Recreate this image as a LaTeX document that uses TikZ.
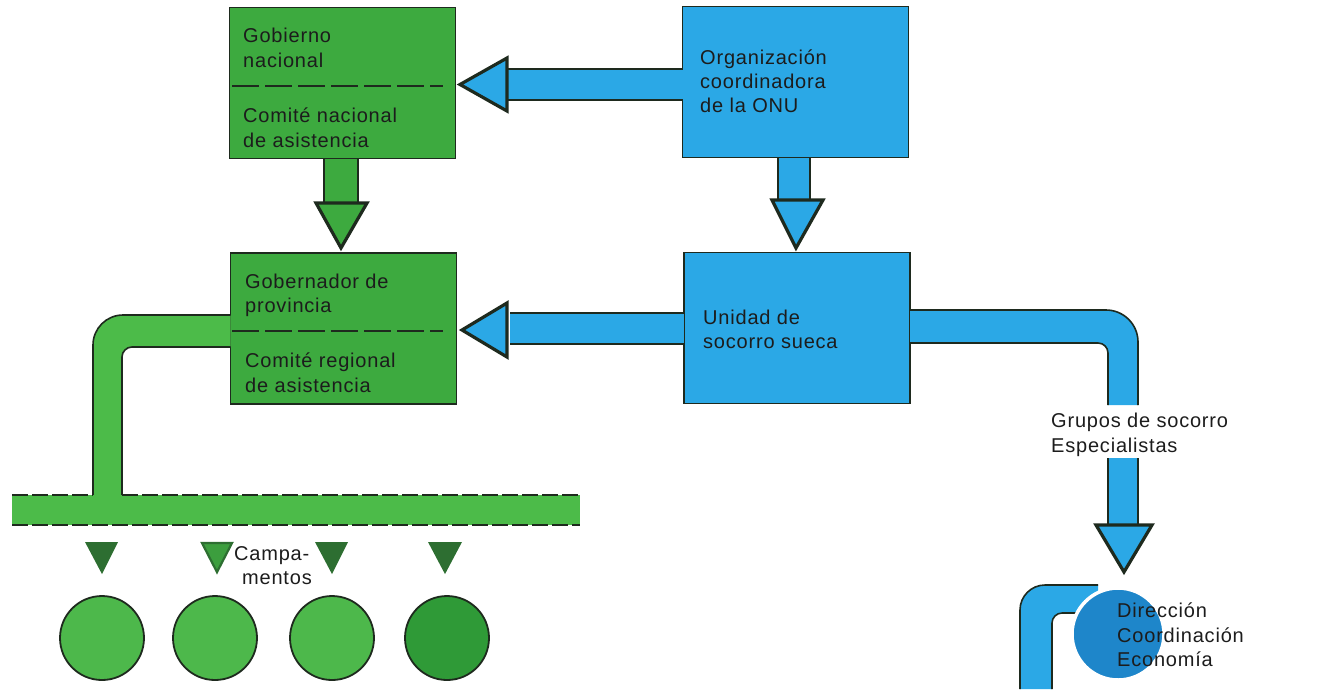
\documentclass[tikz,border=0pt]{standalone}
\usepackage{fontspec}
\newfontfamily\labfont[LetterSpace=4]{Liberation Sans}
\usetikzlibrary{calc}
\definecolor{gfill}{HTML}{3DAA3F}
\definecolor{gpipe}{HTML}{4CBB49}
\definecolor{bfill}{HTML}{2BA8E6}
\definecolor{cblue}{HTML}{1E86CA}
\definecolor{tdark}{HTML}{2D6E31}
\definecolor{tmid}{HTML}{3C9E3E}
\definecolor{cgreen}{HTML}{4DB84B}
\definecolor{cdark}{HTML}{2F9A37}
\definecolor{ink}{HTML}{1C1C1C}
\definecolor{edge}{HTML}{1E2A1E}
\begin{document}
\begin{tikzpicture}[x=1pt,y=-1pt,
  box/.style={draw=edge, line width=1.8pt, minimum width=226pt, minimum height=151pt, inner sep=0pt, outer sep=0pt},
  gbox/.style={box, fill=gfill},
  bbox/.style={box, fill=bfill},
  lab/.style={font=\labfont\fontsize{20}{25}\selectfont, text=ink, anchor=base west, inner sep=0pt},
  rim/.style={draw=edge, line width=1.6pt},
  headtri/.style={draw=edge, line width=3.2pt, line join=miter},
  divider/.style={draw=edge, line width=1.3pt, dash pattern=on 27pt off 6pt},
  bardash/.style={draw=edge, line width=1.6pt, dash pattern=on 16pt off 4pt},
  camp/.style={circle, draw=edge, line width=1.8pt, minimum size=84pt, inner sep=0pt},
  smalltri/.style={fill=tdark},
]
\useasboundingbox (0,0) rectangle (1324,689);

% ---------- boxes ----------
\node[gbox] (gob)  at (342.5,83)  {};
\node[bbox] (org)  at (795.5,82)  {};
\node[gbox] (gobp) at (343.5,328.5) {};
\node[bbox] (uni)  at (797,328)   {};

\draw[divider] (232,86) -- (443,86);
\draw[divider] (232,331) -- (443,331);

% ---------- box texts ----------
\node[lab] (t1) at (243,42)  {Gobierno};
\node[lab] (t2) at (243,67)  {nacional};
\node[lab] (t3) at (243,122) {Comité nacional};
\node[lab] (t4) at (243,147) {de asistencia};

\node[lab] (t5) at (700,64)  {Organización};
\node[lab] (t6) at (700,88)  {coordinadora};
\node[lab] (t7) at (700,112) {de la ONU};

\node[lab] (t8)  at (245,288) {Gobernador de};
\node[lab] (t9)  at (245,312) {provincia};
\node[lab] (t10) at (245,367) {Comité regional};
\node[lab] (t11) at (245,392) {de asistencia};

\node[lab] (t12) at (703,324) {Unidad de};
\node[lab] (t13) at (703,348) {socorro sueca};

% ---------- arrow: ONU -> Gobierno ----------
\fill[bfill] (507,69) rectangle (org.west |- 0,100);
\draw[rim] (507,69) -- (org.west |- 0,69) (507,100) -- (org.west |- 0,100);
\filldraw[headtri, fill=bfill] (507,58) -- (507,111) -- ($(gob.east)+(4.5,1.5)$) -- cycle;

% ---------- arrow: Gobierno -> Gobernador ----------
\fill[gfill] (gob.south -| 324,0) rectangle (358,203);
\draw[rim] (gob.south -| 324,0) -- (324,203) (gob.south -| 358,0) -- (358,203);
\filldraw[headtri, fill=gfill] (316,203) -- (367,203) -- ($(gobp.north)+(-2.5,-5)$) -- cycle;

% ---------- arrow: ONU -> Unidad ----------
\fill[bfill] (org.south -| 778,0) rectangle (810,200);
\draw[rim] (org.south -| 778,0) -- (778,200) (org.south -| 810,0) -- (810,200);
\filldraw[headtri, fill=bfill] (772,200) -- (823,200) -- ($(uni.north)+(-1,-4.5)$) -- cycle;

% ---------- arrow: Unidad -> Gobernador ----------
\fill[bfill] (510,313) rectangle (uni.west |- 0,344);
\draw[rim] (510,313) -- (uni.west |- 0,313) (510,344) -- (uni.west |- 0,344);
\filldraw[headtri, fill=bfill] (507,303) -- (507,357) -- ($(gobp.east)+(5.5,1.5)$) -- cycle;

% ---------- pipe: Unidad -> groups ----------
\fill[bfill] (uni.east |- 0,310) -- (1106,310) arc[start angle=270,end angle=360,radius=32]
   -- (1138,405) -- (1108,405) -- (1108,353) arc[start angle=0,end angle=-90,radius=10]
   -- (uni.east |- 0,343) -- cycle;
\draw[rim] (uni.east |- 0,310) -- (1106,310) arc[start angle=270,end angle=360,radius=32] -- (1138,405);
\draw[rim] (1108,405) -- (1108,353) arc[start angle=0,end angle=-90,radius=10] -- (uni.east |- 0,343);

\node[lab] (t14) at (1051,427) {Grupos de socorro};
\node[lab] (t15) at (1051,452) {Especialistas};

\fill[bfill] (1108,458) rectangle (1138,525);
\draw[rim] (1108,458) -- (1108,525) (1138,458) -- (1138,525);
\filldraw[headtri, fill=bfill] (1096,525) -- (1152,525) -- (1124,572) -- cycle;

% ---------- bottom right pipe and circle ----------
\fill[bfill] (1020,689) -- (1020,610) arc[start angle=180,end angle=270,radius=25]
   -- (1098,585) -- (1098,613) -- (1062,613) arc[start angle=270,end angle=180,radius=10]
   -- (1052,689) -- cycle;
\draw[rim] (1020,689) -- (1020,610) arc[start angle=180,end angle=270,radius=25] -- (1098,585);
\draw[rim] (1098,613) -- (1062,613) arc[start angle=270,end angle=180,radius=10] -- (1052,689);
\node[circle, fill=cblue, draw=white, line width=3.5pt, minimum size=92pt, inner sep=0pt] (dir) at (1118,634) {};
\node[lab] (t16) at (1117,617) {Dirección};
\node[lab] (t17) at (1117,642) {Coordinación};
\node[lab] (t18) at (1117,666) {Economía};

% ---------- green pipe and bar ----------
\fill[gpipe] (gobp.west |- 0,315) -- (123,315) arc[start angle=270,end angle=180,radius=30]
   -- (93,496) -- (122,496) -- (122,357) arc[start angle=180,end angle=270,radius=10]
   -- (gobp.west |- 0,347) -- cycle;
\draw[rim] (gobp.west |- 0,315) -- (123,315) arc[start angle=270,end angle=180,radius=30] -- (93,495);
\draw[rim] (122,495) -- (122,357) arc[start angle=180,end angle=270,radius=10] -- (gobp.west |- 0,347);

\fill[gpipe] (12,495) rectangle (580,525);
\draw[bardash] (12,495) -- (93,495);
\draw[bardash] (122,495) -- (580,495);
\draw[bardash] (12,525) -- (580,525);

% ---------- camps ----------
\node[camp, fill=cgreen] (c1) at (102,638) {};
\node[camp, fill=cgreen] (c2) at (215,638) {};
\node[camp, fill=cgreen] (c3) at (332,638) {};
\node[camp, fill=cdark]  (c4) at (447,638) {};

\fill[smalltri] (85,542) -- (118,542) -- ($(c1.north)+(0,-21)$) -- cycle;
\filldraw[fill=tmid, draw=tdark, line width=2.2pt, line join=miter] (202,543) -- (232,543) -- ($(c2.north)+(2,-23)$) -- cycle;
\fill[smalltri] (315,542) -- (348,542) -- ($(c3.north)+(0,-21)$) -- cycle;
\fill[smalltri] (428,542) -- (462,542) -- ($(c4.north)+(-2,-21)$) -- cycle;

\node[lab] (t19) at (234,560) {Campa-};
\node[lab] (t20) at (242,584) {mentos};
\end{tikzpicture}
\end{document}
